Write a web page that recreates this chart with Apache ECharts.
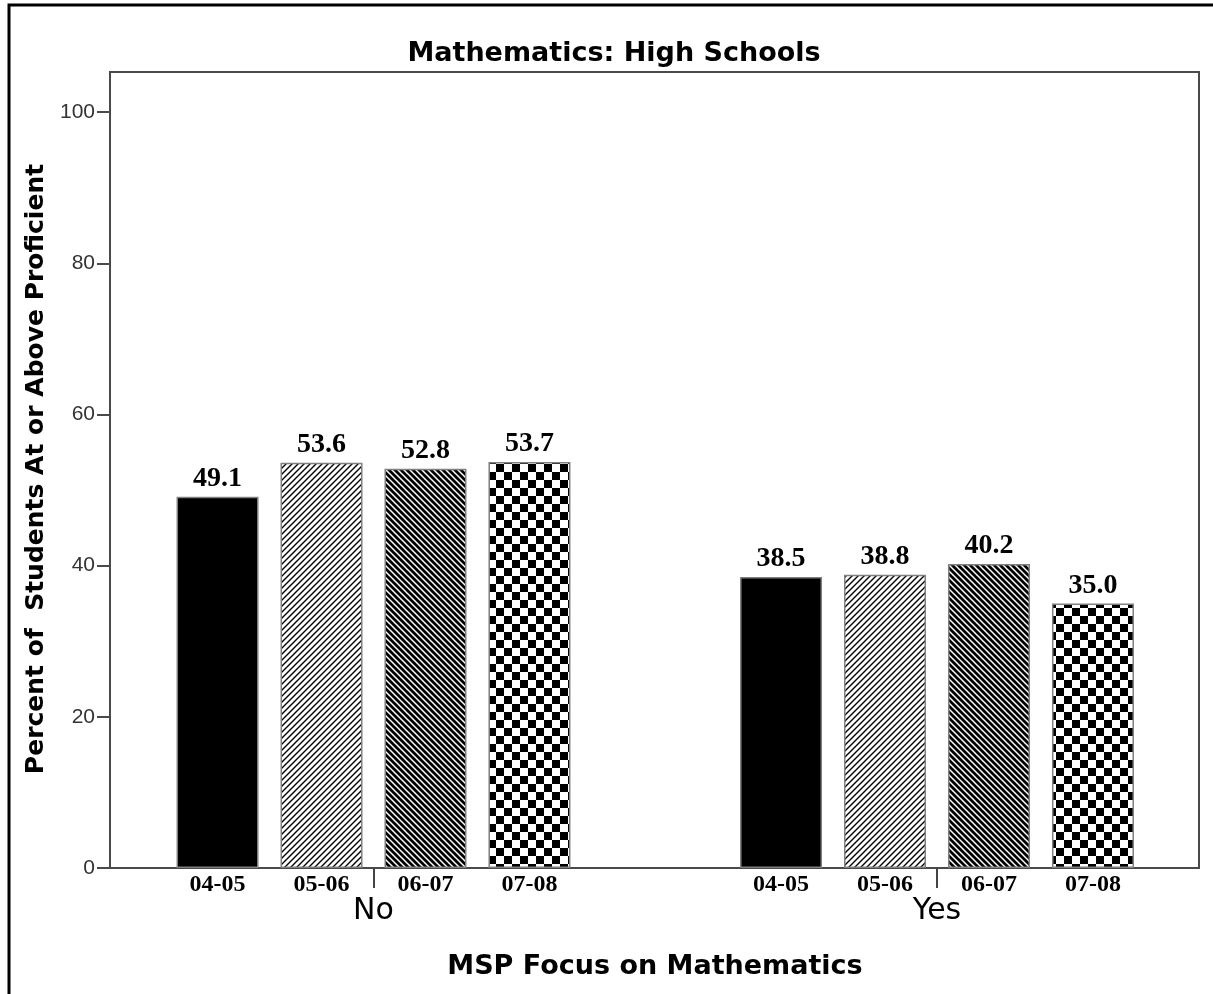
<!DOCTYPE html>
<html>
<head>
<meta charset="utf-8">
<script src="https://cdn.jsdelivr.net/npm/echarts@6/dist/echarts.min.js"></script>
<style>
  html, body { margin: 0; padding: 0; background: #fff; }
  #chart { width: 1213px; height: 994px; }
</style>
</head>
<body>
<div id="chart"></div>
<script>
// Groups on the category axis and the school years shown inside each group
const groups = ['No', 'Yes'];
const years = ['04-05', '05-06', '06-07', '07-08'];

// Percent of students at or above proficient, per school year (No, Yes)
const values0405 = [49.1, 38.5];
const values0506 = [53.6, 38.8];
const values0607 = [52.8, 40.2];
const values0708 = [53.7, 35.0];

const yTicks = [0, 20, 40, 60, 80, 100];

const titleText = 'Mathematics: High Schools';
const yTitle = 'Percent of  Students At or Above Proficient';
const xTitle = 'MSP Focus on Mathematics';

// ---- fill patterns ----
function tile(size, draw) {
  const c = document.createElement('canvas');
  c.width = size; c.height = size;
  const ctx = c.getContext('2d');
  draw(ctx, size);
  return c;
}
const forwardStripes = tile(6, (ctx, p) => {
  ctx.fillStyle = '#fff'; ctx.fillRect(0, 0, p, p);
  ctx.strokeStyle = '#000'; ctx.lineWidth = 1.4;
  ctx.beginPath();
  ctx.moveTo(-1, p + 1); ctx.lineTo(p + 1, -1);
  ctx.moveTo(-2, 2); ctx.lineTo(2, -2);
  ctx.moveTo(p - 2, p + 2); ctx.lineTo(p + 2, p - 2);
  ctx.stroke();
});
const backStripes = tile(6, (ctx, p) => {
  ctx.fillStyle = '#000'; ctx.fillRect(0, 0, p, p);
  ctx.strokeStyle = '#fff'; ctx.lineWidth = 1.5;
  ctx.beginPath();
  ctx.moveTo(-1, -1); ctx.lineTo(p + 1, p + 1);
  ctx.moveTo(-2, p - 2); ctx.lineTo(2, p + 2);
  ctx.moveTo(p - 2, -2); ctx.lineTo(p + 2, 2);
  ctx.stroke();
});
const checker = tile(16, (ctx, p) => {
  ctx.fillStyle = '#fff'; ctx.fillRect(0, 0, p, p);
  ctx.fillStyle = '#000';
  ctx.fillRect(0, 0, p / 2, p / 2);
  ctx.fillRect(p / 2, p / 2, p / 2, p / 2);
});

const fills = [
  '#000',
  { image: forwardStripes, repeat: 'repeat' },
  { image: backStripes, repeat: 'repeat' },
  { image: checker, repeat: 'repeat' }
];
const seriesValues = [values0405, values0506, values0607, values0708];

const BAR_W = 82;
const BAR_GAP = '26.8%';
const Y_MAX = 105.3;

const series = [];
years.forEach((yr, i) => {
  // zero-height companion bar carrying the school-year label under the axis
  series.push({
    type: 'bar', name: yr, stack: 's' + i,
    xAxisIndex: 1, yAxisIndex: 1,
    data: groups.map(() => 0),
    barWidth: BAR_W, barGap: BAR_GAP, clip: false,
    silent: true,
    itemStyle: { color: 'rgba(0,0,0,0)', borderWidth: 0 },
    label: {
      show: true, position: 'bottom', distance: 5,
      formatter: '{a}',
      fontFamily: 'Liberation Serif', fontWeight: 'bold', fontSize: 24, color: '#000'
    }
  });
  series.push({
    type: 'bar', name: yr, stack: 's' + i,
    xAxisIndex: 1, yAxisIndex: 1,
    data: seriesValues[i],
    barWidth: BAR_W, barGap: BAR_GAP, clip: false,
    itemStyle: { color: fills[i], borderColor: '#808080', borderWidth: 1.5 },
    label: {
      show: true, position: 'top', distance: 4,
      formatter: p => Number(p.value).toFixed(1),
      fontFamily: 'Liberation Serif', fontWeight: 'bold', fontSize: 28, color: '#000'
    }
  });
});

const chart = echarts.init(document.getElementById('chart'), null, { renderer: 'canvas' });
chart.setOption({
  backgroundColor: '#fff',
  animation: false,
  grid: [
    // plot frame with the value axis
    { left: 110, top: 72, width: 1089, height: 796, show: true,
      borderColor: '#4a4a4a', borderWidth: 2, backgroundColor: 'rgba(0,0,0,0)' },
    // bar layout grid: spans from the centre of the first group to the centre of the second
    { left: 373.5, top: 72, width: 563.5, height: 796 }
  ],
  xAxis: [
    { type: 'value', gridIndex: 0, show: false, min: 0, max: 1 },
    {
      type: 'category', gridIndex: 1, data: groups, boundaryGap: false,
      axisLine: { show: false },
      axisTick: { show: true, length: 20, lineStyle: { color: '#444', width: 2 } },
      axisLabel: { margin: 28, fontFamily: 'DejaVu Sans', fontSize: 30, color: '#000' },
      splitLine: { show: false }
    }
  ],
  yAxis: [
    {
      type: 'value', gridIndex: 0, min: 0, max: Y_MAX, interval: 20,
      axisLine: { show: true, lineStyle: { color: '#4a4a4a', width: 2 } },
      axisTick: { show: true, length: 13, customValues: yTicks, lineStyle: { color: '#4a4a4a', width: 2 } },
      axisLabel: { margin: 15, customValues: yTicks, fontFamily: 'Liberation Sans', fontSize: 21, color: '#333' },
      splitLine: { show: false }
    },
    { type: 'value', gridIndex: 1, min: 0, max: Y_MAX, show: false, splitLine: { show: false } }
  ],
  series: series,
  graphic: [
    { type: 'rect', silent: true, z: 100,
      shape: { x: 9, y: 5, width: 1400, height: 1200 },
      style: { fill: 'none', stroke: '#000', lineWidth: 3 } },
    { type: 'text', x: 614, y: 54, silent: true,
      style: { text: titleText, fontFamily: 'DejaVu Sans', fontWeight: 'bold', fontSize: 27,
               fill: '#000', align: 'center', verticalAlign: 'middle' } },
    { type: 'text', x: 36, y: 469, rotation: Math.PI / 2, silent: true,
      style: { text: yTitle, fontFamily: 'DejaVu Sans', fontWeight: 'bold', fontSize: 25,
               fill: '#000', align: 'center', verticalAlign: 'middle' } },
    { type: 'text', x: 655, y: 967, silent: true,
      style: { text: xTitle, fontFamily: 'DejaVu Sans', fontWeight: 'bold', fontSize: 27,
               fill: '#000', align: 'center', verticalAlign: 'middle' } }
  ]
});
</script>
</body>
</html>
